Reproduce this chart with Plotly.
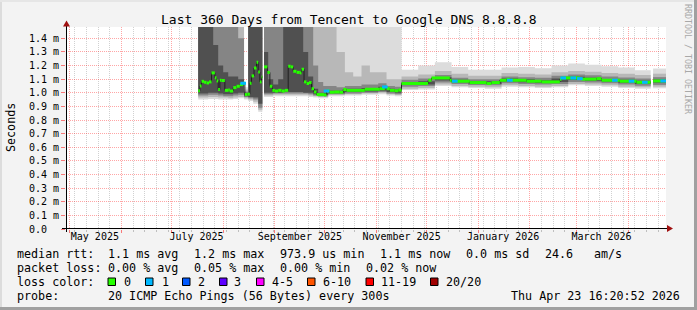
import plotly.graph_objects as go

# ---------------- data ----------------
x_start = "2025-04-28 16:20:52"
x_end = "2026-04-23 16:20:52"

smoke_dates = [
    "2025-07-17", "2025-07-20", "2025-07-23", "2025-07-26", "2025-07-29", "2025-08-01",
    "2025-08-04", "2025-08-07", "2025-08-10", "2025-08-13 12:00", "2025-08-16", "2025-08-19",
    "2025-08-22", "2025-08-24 12:00",
    None,
    "2025-08-25 12:00", "2025-08-28", "2025-08-31", "2025-09-03", "2025-09-06", "2025-09-09",
    "2025-09-12", "2025-09-15", "2025-09-18", "2025-09-21", "2025-09-24", "2025-09-27",
    "2025-09-30", "2025-10-03", "2025-10-08", "2025-10-13", "2025-10-18", "2025-10-23",
    "2025-10-28", "2025-11-02", "2025-11-07", "2025-11-12", "2025-11-16", "2025-11-26",
    "2025-12-06", "2025-12-16", "2025-12-26", "2026-01-05", "2026-01-15", "2026-01-25",
    "2026-02-04", "2026-02-14", "2026-02-24", "2026-03-06", "2026-03-16", "2026-03-26",
    "2026-04-05", "2026-04-14 12:00",
    None,
    "2026-04-15 22:00", "2026-04-23 16:20",
]
smoke_lo0 = [0.95, 0.95, 0.955, 0.955, 0.95, 0.95, 0.95, 0.955, 0.96, 0.95, 0.94, 0.92, 0.86, 0.86,
             None,
             0.97, 0.97, 0.975, 0.975, 0.975, 0.975, 0.975, 0.975, 0.975, 0.97, 0.965, 0.96, 0.96,
             0.975, 0.975, 0.98, 0.98, 0.985, 0.985, 0.99, 0.98, 0.975, 1.02, 1.025, 1.05, 1.04,
             1.035, 1.03, 1.045, 1.04, 1.035, 1.04, 1.055, 1.05, 1.045, 1.035, 1.03, 1.03,
             None, 1.033, 1.033]
smoke_lo1 = [0.965, 0.965, 0.97, 0.97, 0.965, 0.965, 0.96, 0.965, 0.97, 0.96, 0.95, 0.935, 0.875, 0.875,
             None,
             0.98, 0.98, 0.985, 0.985, 0.985, 0.985, 0.985, 0.985, 0.985, 0.98, 0.975, 0.97, 0.97,
             0.985, 0.985, 0.99, 0.99, 0.995, 0.995, 1.0, 0.99, 0.985, 1.03, 1.035, 1.06, 1.05,
             1.045, 1.04, 1.055, 1.05, 1.045, 1.05, 1.065, 1.06, 1.055, 1.045, 1.04, 1.04,
             None, 1.045, 1.045]
smoke_lo2 = [0.98, 0.98, 0.985, 0.985, 0.98, 0.975, 0.975, 0.98, 0.985, 0.97, 0.96, 0.95, 0.89, 0.89,
             None,
             0.99, 0.99, 0.995, 0.995, 0.995, 0.995, 0.995, 0.995, 0.995, 0.99, 0.98, 0.975, 0.975,
             0.99, 0.99, 0.995, 0.995, 1.0, 1.0, 1.005, 0.995, 0.99, 1.045, 1.05, 1.075, 1.065,
             1.058, 1.055, 1.07, 1.065, 1.06, 1.065, 1.08, 1.075, 1.07, 1.06, 1.052, 1.052,
             None, 1.058, 1.058]
smoke_lo3 = [0.995, 0.995, 1.0, 1.0, 0.995, 0.99, 0.99, 0.995, 1.0, 0.975, 0.97, 0.965, 0.92, 0.92,
             None,
             1.0, 1.0, 1.0, 1.0, 1.005, 1.005, 1.005, 1.005, 1.0, 1.0, 0.99, 0.983, 0.983,
             0.997, 0.997, 1.005, 1.005, 1.01, 1.01, 1.015, 1.005, 1.0, 1.058, 1.06, 1.09, 1.077,
             1.068, 1.065, 1.083, 1.077, 1.072, 1.08, 1.095, 1.088, 1.082, 1.073, 1.065, 1.065,
             None, 1.075, 1.075]
smoke_hi3 = [1.6, 1.6, 1.6, 1.35, 1.2, 1.15, 1.12, 1.12, 1.1, 1.0, 1.6, 1.6, 1.6, 1.6,
             None,
             1.3, 1.1, 1.06, 1.1, 1.6, 1.6, 1.6, 1.6, 1.3, 1.12, 1.03, 1.0, 1.0,
             1.015, 1.015, 1.03, 1.03, 1.035, 1.035, 1.045, 1.03, 1.025, 1.078, 1.085, 1.115, 1.095,
             1.085, 1.085, 1.105, 1.1, 1.092, 1.105, 1.118, 1.11, 1.102, 1.095, 1.088, 1.088,
             None, 1.097, 1.097]
smoke_hi2 = [1.6, 1.6, 1.6, 1.6, 1.6, 1.6, 1.6, 1.6, 1.4, 1.01, 1.6, 1.6, 1.6, 1.6,
             None,
             1.6, 1.6, 1.6, 1.6, 1.6, 1.6, 1.6, 1.6, 1.6, 1.6, 1.2, 1.08, 1.05,
             1.05, 1.04, 1.05, 1.05, 1.06, 1.06, 1.07, 1.05, 1.045, 1.095, 1.105, 1.13, 1.11,
             1.1, 1.1, 1.12, 1.115, 1.11, 1.125, 1.135, 1.128, 1.12, 1.112, 1.105, 1.105,
             None, 1.115, 1.115]
smoke_hi1 = [1.6, 1.6, 1.6, 1.6, 1.6, 1.6, 1.6, 1.6, 1.6, 1.025, 1.6, 1.6, 1.6, 1.6,
             None,
             1.6, 1.6, 1.6, 1.6, 1.6, 1.6, 1.6, 1.6, 1.6, 1.6, 1.6, 1.6, 1.6,
             1.6, 1.3, 1.15, 1.12, 1.2, 1.15, 1.15, 1.1, 1.1, 1.12, 1.135, 1.16, 1.14,
             1.125, 1.125, 1.145, 1.14, 1.135, 1.15, 1.16, 1.155, 1.145, 1.14, 1.13, 1.13,
             None, 1.14, 1.14]
smoke_hi0 = [1.6, 1.6, 1.6, 1.6, 1.6, 1.6, 1.6, 1.6, 1.6, 1.04, 1.6, 1.6, 1.6, 1.6,
             None,
             1.6, 1.6, 1.6, 1.6, 1.6, 1.6, 1.6, 1.6, 1.6, 1.6, 1.6, 1.6, 1.6,
             1.6, 1.6, 1.6, 1.6, 1.6, 1.6, 1.6, 1.6, 1.6, 1.17, 1.2, 1.225, 1.19,
             1.17, 1.17, 1.185, 1.19, 1.18, 1.2, 1.215, 1.205, 1.195, 1.185, 1.165, 1.165,
             None, 1.178, 1.178]

median_dates = [
    "2025-07-17", "2025-07-18", "2025-07-19", "2025-07-20 12:00", "2025-07-22", "2025-07-23 12:00",
    "2025-07-25", "2025-07-27", "2025-07-28", "2025-07-29", "2025-07-30", "2025-07-31",
    "2025-08-02", "2025-08-04", "2025-08-05", "2025-08-07", "2025-08-09", "2025-08-11",
    "2025-08-13", "2025-08-14", "2025-08-15 12:00", "2025-08-17", "2025-08-18", "2025-08-19 12:00",
    "2025-08-21", "2025-08-22", "2025-08-23", "2025-08-24", "2025-08-24 12:00",
    None,
    "2025-08-25 12:00", "2025-08-27 12:00", "2025-08-29", "2025-08-30 12:00", "2025-09-01",
    "2025-09-03", "2025-09-05", "2025-09-07", "2025-09-09", "2025-09-10 12:00", "2025-09-12",
    "2025-09-14", "2025-09-16", "2025-09-17", "2025-09-18 12:00", "2025-09-20", "2025-09-21 12:00",
    "2025-09-23", "2025-09-24 12:00", "2025-09-26", "2025-09-30 12:00", "2025-10-02", "2025-10-04",
    "2025-10-06 12:00", "2025-10-10", "2025-10-12", "2025-10-14", "2025-10-25", "2025-11-03",
    "2025-11-06", "2025-11-07", "2025-11-09", "2025-11-12", "2025-11-14", "2025-11-16",
    "2025-12-02", "2025-12-04", "2025-12-15", "2025-12-16", "2025-12-27", "2026-01-06",
    "2026-01-09", "2026-01-14", "2026-01-18", "2026-01-20", "2026-01-30", "2026-02-08",
    "2026-02-19", "2026-02-20", "2026-03-03", "2026-03-04", "2026-03-13", "2026-03-16",
    "2026-03-27", "2026-04-06", "2026-04-14 12:00",
    None,
    "2026-04-15 22:00", "2026-04-23 16:20",
]
median_vals = [
    1.015, 1.05, 1.084, 1.077, 1.072, 1.08,
    1.146, 1.11, 1.087, 1.024, 1.092, 1.09,
    1.018, 1.02, 1.013, 1.038, 1.048, 1.06,
    1.07, 0.987, 0.99, 1.07, 1.124, 1.182,
    1.224, 1.153, 1.08, 1.116, 1.116,
    None,
    1.19, 1.15, 1.048, 1.018, 1.013,
    1.018, 1.013, 1.018, 1.195, 1.19, 1.158,
    1.15, 1.146, 1.173, 1.08, 1.068, 1.075,
    1.03, 1.006, 0.987, 0.984, 1.013, 1.004,
    1.006, 1.004, 1.024, 1.018, 1.026, 1.03,
    1.043, 1.03, 1.018, 1.015, 1.02, 1.068,
    1.092, 1.109, 1.092, 1.085, 1.075, 1.068,
    1.075, 1.092, 1.099, 1.092, 1.085, 1.08,
    1.099, 1.109, 1.104, 1.1, 1.104, 1.092,
    1.085, 1.077, 1.077,
    None,
    1.087, 1.087,
]

loss1_dates = ["2025-08-13", "2025-10-02", "2025-11-06", "2025-12-18", "2026-01-20", "2026-02-21",
               "2026-02-27", "2026-03-03", "2026-03-24", "2026-04-03", "2026-04-11", "2026-04-22"]
loss1_vals = [1.07, 1.013, 1.043, 1.085, 1.092, 1.109, 1.109, 1.104, 1.092, 1.085, 1.077, 1.087]

y_tick_vals = [0.0, 0.1, 0.2, 0.3, 0.4, 0.5, 0.6, 0.7, 0.8, 0.9, 1.0, 1.1, 1.2, 1.3, 1.4]
y_tick_text = ["0.0\u00a0\u00a0", "0.1 m", "0.2 m", "0.3 m", "0.4 m", "0.5 m", "0.6 m", "0.7 m",
               "0.8 m", "0.9 m", "1.0 m", "1.1 m", "1.2 m", "1.3 m", "1.4 m"]

month_label_dates = ["2025-05-16", "2025-07-16", "2025-09-16", "2025-11-16", "2026-01-16", "2026-03-16"]
month_labels = ["May 2025", "July 2025", "September 2025", "November 2025", "January 2026", "March 2026"]

title_text = "Last 360 Days from Tencent to Google DNS 8.8.8.8"

rtt_items = ["median rtt:", "1.1 ms avg", "1.2 ms max", "973.9 us min", "1.1 ms now",
             "0.0 ms sd", "24.6", "am/s"]
loss_items = ["packet loss:", "0.00 % avg", "0.05 % max", "0.00 % min", "0.02 % now"]
loss_labels = ["0", "1", "2", "3", "4-5", "6-10", "11-19", "20/20"]
loss_colors = ["#26ff00", "#00b8ff", "#0059ff", "#5e00ff", "#ff00ff", "#ff5500", "#ff0000", "#a00000"]
probe_text = "20 ICMP Echo Pings (56 Bytes) every 300s"
stamp_text = "Thu Apr 23 16:20:52 2026"

# ---------------- layout constants (pixels) ----------------
W, H = 697, 310
L, R, T, B = 66, 31, 27, 81
PW, PH = W - L - R, H - T - B
MONO = "DejaVu Sans Mono"

rtt_x = [16, 107, 193, 279, 379, 465, 544, 593]
loss_x = [16, 107, 193, 279, 365]
sq_x = [108, 145.5, 182.5, 219.5, 256.5, 307.5, 366, 430.5]
lab_x = [123, 160.5, 197, 233, 270.5, 321.5, 380, 445]


def px(xp):
    return (xp - L) / PW


def py(yp):
    return (T + PH - yp) / PH


def split(dates):
    segs, cur = [], []
    for i, d in enumerate(dates):
        if d is None:
            if cur:
                segs.append(cur)
            cur = []
        else:
            cur.append(i)
    if cur:
        segs.append(cur)
    return segs


fig = go.Figure()

bands = [
    (smoke_lo0, smoke_hi0, "#dcdcdc"),
    (smoke_lo1, smoke_hi1, "#b8b8b8"),
    (smoke_lo2, smoke_hi2, "#858585"),
    (smoke_lo3, smoke_hi3, "#505050"),
]
for lo, hi, col in bands:
    for seg in split(smoke_dates):
        xs = [smoke_dates[i] for i in seg]
        fig.add_trace(go.Scatter(x=xs, y=[lo[i] for i in seg], mode="lines",
                                 line=dict(width=0, shape="hv"), hoverinfo="skip",
                                 showlegend=False))
        fig.add_trace(go.Scatter(x=xs, y=[hi[i] for i in seg], mode="lines",
                                 line=dict(width=0, shape="hv"), fill="tonexty",
                                 fillcolor=col, hoverinfo="skip", showlegend=False))

# black median line (with vertical transitions)
fig.add_trace(go.Scatter(x=median_dates, y=median_vals, mode="lines",
                         line=dict(color="#202020", width=1, shape="hv"), showlegend=False))

# loss-coloured median: horizontal pieces only (one per median step)
gx, gy = [], []
for seg in split(median_dates):
    for a, b in zip(seg[:-1], seg[1:]):
        gx += [median_dates[a], median_dates[b], None]
        gy += [median_vals[a], median_vals[a], None]
fig.add_trace(go.Scatter(x=gx, y=gy, mode="lines",
                         line=dict(color="#26ff00", width=3), showlegend=False))
fig.add_trace(go.Scatter(x=loss1_dates, y=loss1_vals, mode="markers",
                         marker=dict(symbol="line-ew", size=4,
                                     line=dict(width=3, color="#00b8ff")),
                         showlegend=False))
fig.add_trace(go.Scatter(x=[x_start], y=[None], xaxis="x2", yaxis="y", showlegend=False,
                         hoverinfo="skip"))

shapes = []
# frame
shapes.append(dict(type="rect", xref="paper", yref="paper", x0=px(0), x1=px(2), y0=py(H), y1=py(0),
                   fillcolor="#dcdcdc", line=dict(width=0), layer="below"))
shapes.append(dict(type="rect", xref="paper", yref="paper", x0=px(0), x1=px(W), y0=py(2), y1=py(0),
                   fillcolor="#e6e6e6", line=dict(width=0), layer="below"))
shapes.append(dict(type="rect", xref="paper", yref="paper", x0=px(W - 3), x1=px(W), y0=py(H), y1=py(0),
                   fillcolor="#a0a0a0", line=dict(width=0)))
shapes.append(dict(type="rect", xref="paper", yref="paper", x0=px(0), x1=px(W), y0=py(H), y1=py(H - 3),
                   fillcolor="#a0a0a0", line=dict(width=0)))
# axes lines + arrows
shapes.append(dict(type="line", xref="paper", yref="paper", x0=px(62), x1=px(668), y0=py(228.5), y1=py(228.5),
                   line=dict(color="#000000", width=1)))
shapes.append(dict(type="line", xref="paper", yref="paper", x0=px(66.5), x1=px(66.5), y0=py(232), y1=py(26),
                   line=dict(color="#000000", width=1)))
shapes.append(dict(type="path", xref="paper", yref="paper",
                   path=f"M {px(673)} {py(228.5)} L {px(667)} {py(225)} L {px(667)} {py(232)} Z",
                   fillcolor="#a01010", line=dict(width=0)))
shapes.append(dict(type="path", xref="paper", yref="paper",
                   path=f"M {px(66.5)} {py(20.5)} L {px(63)} {py(26.5)} L {px(70)} {py(26.5)} Z",
                   fillcolor="#a01010", line=dict(width=0)))
# loss colour squares
for sx, c in zip(sq_x, loss_colors):
    shapes.append(dict(type="rect", xref="paper", yref="paper", x0=px(sx), x1=px(sx + 7.5),
                       y0=py(285.5), y1=py(278), fillcolor=c, line=dict(color="#000000", width=1)))

ann = []


def text(t, x, y, size=11.7, anchor="left", color="#000000", angle=0):
    ann.append(dict(text=t, xref="paper", yref="paper", x=px(x), y=py(y), xanchor=anchor,
                    yanchor="middle", showarrow=False, textangle=angle, borderpad=0,
                    font=dict(family=MONO, size=size, color=color)))


text(title_text, 348.5, 19.5, size=13, anchor="center")
text("Seconds", 11, 128, size=11.7, anchor="center", angle=-90)
text("RRDTOOL / TOBI OETIKER", 688, 59, size=8.3, anchor="center", color="#a8a8a8", angle=90)
for t, x in zip(rtt_items, rtt_x):
    text(t, x, 254)
for t, x in zip(loss_items, loss_x):
    text(t, x, 268)
text("loss color:", 16, 282)
for t, x in zip(loss_labels, lab_x):
    text(t, x, 282)
text("probe:", 16, 296)
text(probe_text, 107, 296)
text(stamp_text, 681, 296, anchor="right")

fig.update_layout(
    width=W, height=H, margin=dict(l=L, r=R, t=T, b=B, pad=0),
    paper_bgcolor="#f3f3f3", plot_bgcolor="#ffffff", showlegend=False,
    font=dict(family=MONO, size=10, color="#000000"),
    xaxis=dict(type="date", range=[x_start, x_end], showticklabels=False,
               showgrid=True, gridcolor="rgba(255,0,0,0.35)", griddash="1px,1px", gridwidth=1,
               dtick="M1", tick0="2025-05-01", ticks="outside", ticklen=3,
               tickcolor="rgba(255,0,0,0.5)", zeroline=False, showline=False, fixedrange=True,
               minor=dict(dtick=7 * 86400000, tick0="2025-05-04", showgrid=True,
                          gridcolor="rgba(140,140,140,0.4)", griddash="1px,1px", gridwidth=1,
                          ticks="outside", ticklen=2, tickcolor="rgba(140,140,140,0.5)")),
    xaxis2=dict(type="date", range=[x_start, x_end], overlaying="x", anchor="y", side="bottom",
                tickmode="array", tickvals=month_label_dates, ticktext=month_labels,
                showgrid=False, ticks="", zeroline=False, showline=False,
                tickfont=dict(family=MONO, size=10, color="#000000"), fixedrange=True),
    yaxis=dict(range=[0, 1.483], tickmode="array", tickvals=y_tick_vals, ticktext=y_tick_text,
               showgrid=True, gridcolor="rgba(255,0,0,0.35)", griddash="1px,1px", gridwidth=1,
               ticks="outside", ticklen=4, tickcolor="rgba(255,0,0,0.5)", zeroline=False,
               showline=False, tickfont=dict(family=MONO, size=10, color="#000000"),
               fixedrange=True),
    shapes=shapes, annotations=ann,
)

fig.write_html("out.html")
